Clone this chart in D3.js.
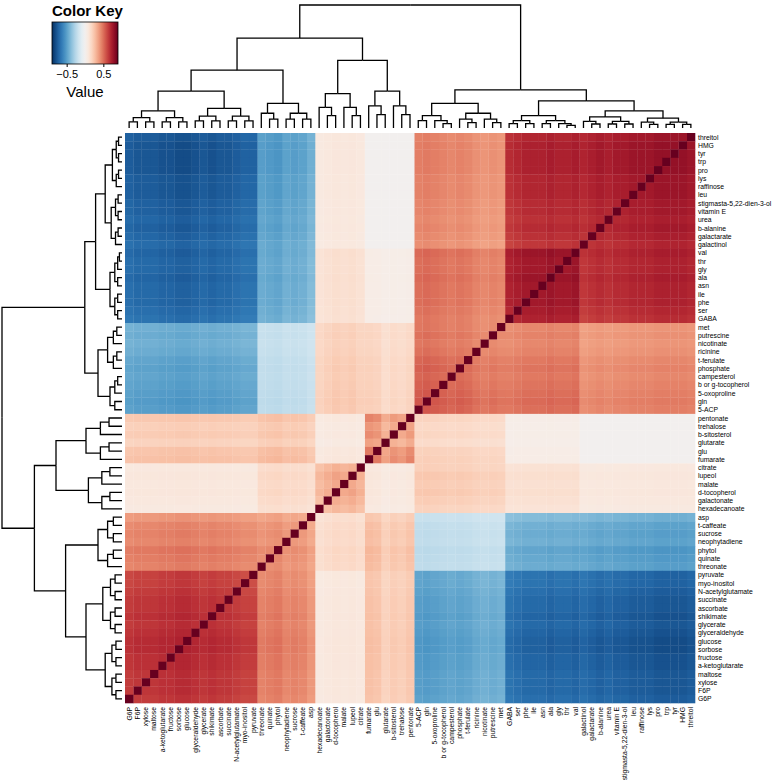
<!DOCTYPE html>
<html><head><meta charset="utf-8">
<script src="https://cdn.jsdelivr.net/npm/d3@7"></script>
<style>body{margin:0;background:#fff;font-family:"Liberation Sans",Arial,sans-serif}
.lab{font-family:"Liberation Sans",Arial,sans-serif;font-size:6.8px}</style>
</head><body><div id="chart"></div>
<script>
// row order, top to bottom; columns are the same list reversed
var rows = ["threitol","HMG","tyr","trp","pro","lys","raffinose","leu","stigmasta-5,22-dien-3-ol","vitamin E","urea","b-alanine","galactarate","galactinol",
  "val","thr","gly","ala","asn","ile","phe","ser","GABA",
  "met","putrescine","nicotinate","ricinine","t-ferulate","phosphate","campesterol","b or g-tocopherol","5-oxoproline","gln","5-ACP",
  "pentonate","trehalose","b-sitosterol","glutarate","glu","fumarate","citrate","lupeol","malate","d-tocopherol","galactonate","hexadecanoate",
  "asp","t-caffeate","sucrose","neophytadiene","phytol","quinate","threonate",
  "pyruvate","myo-inositol","N-acetylglutamate","succinate","ascorbate","shikimate","glycerate","glyceraldehyde","glucose","sorbose","fructose","a-ketoglutarate","maltose","xylose","F6P","G6P"]
// cluster of each row (A1,A2,A3,B1,B2,C1,C2)
var groupOf = [0,0,0,0,0,0,0,0,0,0,0,0,0,0, 1,1,1,1,1,1,1,1,1, 2,2,2,2,2,2,2,2,2,2,2, 3,3,3,3,3,3, 4,4,4,4,4,4, 5,5,5,5,5,5,5, 6,6,6,6,6,6,6,6,6,6,6,6,6,6,6,6]
// mean correlation between clusters
var blockCor = [
  [0.75, 0.70, 0.45, 0.00, 0.10,-0.55,-0.75],
  [0.70, 0.75, 0.50, 0.05, 0.15,-0.50,-0.70],
  [0.45, 0.50, 0.55, 0.20, 0.25,-0.25,-0.50],
  [0.00, 0.05, 0.20, 0.45, 0.10, 0.30, 0.25],
  [0.10, 0.15, 0.25, 0.10, 0.40, 0.20, 0.10],
  [-0.55,-0.50,-0.25,0.30, 0.20, 0.50, 0.50],
  [-0.75,-0.70,-0.50,0.25, 0.10, 0.50, 0.65]]
// how strongly each variable follows its cluster
var strength = [1.0,1.05,1.05,1.05,1.05,1.0,1.0,1.0,0.95,0.95,0.9,0.95,0.9,0.85,
  1.05,1.0,1.0,1.05,1.0,1.0,1.0,0.95,0.9,
  0.75,0.8,0.75,0.8,0.9,0.95,0.9,0.95,1.0,1.05,1.0,
  0.9,0.7,0.8,0.6,1.0,1.1,0.7,0.9,0.8,0.9,0.75,0.6,
  0.6,0.75,0.8,0.75,0.9,0.85,0.8,
  0.9,0.9,0.95,1.0,1.0,1.05,1.0,1.05,1.1,1.1,1.05,1.05,1.0,1.0,1.0,0.95]
var keyTicks = [-0.5, 0.5]

var n = rows.length
var x0 = 125, y0 = 133, size = 570, cell = size / n
var svg = d3.select("#chart").append("svg").attr("width", 778).attr("height", 780)

var color = d3.scaleSequential(function(t){ return d3.interpolateRdBu(1 - t) }).domain([-0.9, 0.9]).clamp(true)

var cells = []
for (var i = 0; i < n; i++) {
  for (var j = 0; j < n; j++) {
    var v = i == j ? 1 : blockCor[groupOf[i]][groupOf[j]] * Math.sqrt(strength[i] * strength[j])
    cells.push({r: i, c: n - 1 - j, v: Math.max(-1, Math.min(1, v))})
  }
}
var pos = d3.scaleBand().domain(d3.range(n)).range([0, size])

svg.append("g").attr("transform", "translate(" + x0 + "," + y0 + ")")
  .selectAll("rect").data(cells).enter().append("rect")
  .attr("x", function(d){ return pos(d.c) }).attr("y", function(d){ return pos(d.r) })
  .attr("width", pos.bandwidth() + 0.3).attr("height", pos.bandwidth() + 0.3)
  .attr("fill", function(d){ return color(d.v) })

// labels
svg.append("g").selectAll("text").data(rows).enter().append("text").attr("class", "lab")
  .attr("x", x0 + size + 3).attr("y", function(d, i){ return y0 + pos(i) + cell / 2 + 2.5 })
  .text(function(d){ return d })
var cols = rows.slice().reverse()
svg.append("g").selectAll("text").data(cols).enter().append("text").attr("class", "lab")
  .attr("transform", function(d, i){ return "translate(" + (x0 + pos(i) + cell / 2 + 2.5) + "," + (y0 + size + 4) + ") rotate(-90)" })
  .attr("text-anchor", "end").text(function(d){ return d })

// dendrogram: [height, left, right], leaves are row indices
function grp(a, b, h) {
  if (a == b) return a
  var m = Math.floor((a + b) / 2)
  return [h, grp(a, m, h * 0.6), grp(m + 1, b, h * 0.6)]
}
var tree = [1.0,
  [0.31, [0.22, [0.14, grp(0, 6, 0.08), grp(7, 13, 0.09)], grp(14, 22, 0.1)], [0.2, grp(23, 28, 0.12), grp(29, 33, 0.1)]],
  [0.73, [0.55, grp(34, 39, 0.3), grp(40, 45, 0.28)], [0.47, grp(46, 52, 0.2), [0.3, grp(53, 60, 0.16), grp(61, 68, 0.14)]]]]

function layout(node) {
  if (typeof node == "number") return {p: node, h: 0}
  var a = layout(node[1]), b = layout(node[2])
  return {p: (a.p + b.p) / 2, h: node[0], kids: [a, b]}
}
var root = layout(tree)
var segs = []
function walk(nd) {
  if (!nd.kids) return
  nd.kids.forEach(function(k){ segs.push([nd.p, nd.h, k.p, k.h]); walk(k) })
}
walk(root)

// top dendrogram, columns reversed
var hTop = d3.scaleLinear().domain([0, 1]).range([128, 5])
var colPos = function(p){ return x0 + (n - 1 - p) * cell + cell / 2 }
svg.append("g").selectAll("path").data(segs).enter().append("path")
  .attr("d", function(s){ return "M" + colPos(s[0]) + "," + hTop(s[1]) + "H" + colPos(s[2]) + "V" + hTop(s[3]) })
  .attr("fill", "none").attr("stroke", "#000").attr("stroke-width", 1.3)
// left dendrogram
var hLeft = d3.scaleLinear().domain([0, 1]).range([122, 2])
var rowPos = function(p){ return y0 + p * cell + cell / 2 }
svg.append("g").selectAll("path").data(segs).enter().append("path")
  .attr("d", function(s){ return "M" + hLeft(s[1]) + "," + rowPos(s[0]) + "V" + rowPos(s[2]) + "H" + hLeft(s[3]) })
  .attr("fill", "none").attr("stroke", "#000").attr("stroke-width", 1.3)

// color key
var kx = 52, ky = 22, kw = 66, kh = 42
var grad = svg.append("defs").append("linearGradient").attr("id", "kg")
d3.range(0, 1.01, 0.05).forEach(function(t){
  grad.append("stop").attr("offset", t).attr("stop-color", color(-0.9 + 1.8 * t))
})
svg.append("text").attr("x", 52).attr("y", 16).style("font-size", "15px").style("font-weight", "bold").text("Color Key")
svg.append("rect").attr("x", kx).attr("y", ky).attr("width", kw).attr("height", kh).attr("fill", "url(#kg)").attr("stroke", "#000").attr("stroke-width", 0.8)
var kScale = d3.scaleLinear().domain([-0.9, 0.9]).range([kx, kx + kw])
var kAxis = svg.append("g").attr("transform", "translate(0," + (ky + kh) + ")")
  .call(d3.axisBottom(kScale).tickValues(keyTicks).tickSize(3).tickFormat(d3.format("")))
kAxis.select(".domain").remove()
kAxis.selectAll("text").style("font-size", "11px").attr("font-family", "Liberation Sans")
svg.append("text").attr("x", kx + kw / 2).attr("y", ky + kh + 33).attr("text-anchor", "middle").style("font-size", "15px").text("Value")
</script></body></html>
